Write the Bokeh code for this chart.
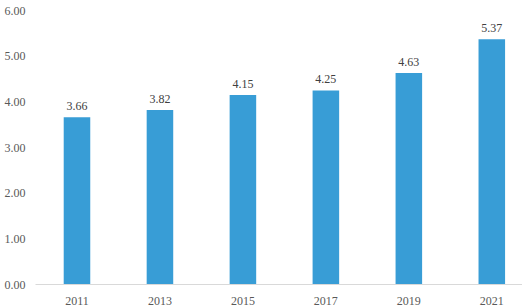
from bokeh.plotting import figure
from bokeh.models import ColumnDataSource, FixedTicker, Range1d, LabelSet
from bokeh.embed import file_html
from bokeh.resources import INLINE

years = ["2011", "2013", "2015", "2017", "2019", "2021"]
values = [3.66, 3.82, 4.15, 4.25, 4.63, 5.37]
y_ticks = [0, 1, 2, 3, 4, 5, 6]

xs = list(range(len(years)))
src = ColumnDataSource(dict(x=xs, top=values, label=[f"{v:.2f}" for v in values]))

p = figure(width=522, height=307, output_backend="svg", toolbar_location=None,
           x_range=Range1d(-0.5, 5.37), y_range=Range1d(0, 6),
           min_border_left=35, min_border_right=0, min_border_top=10, min_border_bottom=22)
p.outline_line_color = None
p.xgrid.grid_line_color = None
p.ygrid.grid_line_color = None

p.vbar(x="x", top="top", width=0.32, bottom=0, source=src, fill_color="#389dd6", line_color=None)

labels = LabelSet(x="x", y="top", text="label", source=src, y_offset=7,
                  text_align="center", text_baseline="bottom",
                  text_font="Liberation Serif", text_font_size="12px", text_color="#404040")
p.add_layout(labels)

p.xaxis.ticker = FixedTicker(ticks=xs)
p.xaxis.major_label_overrides = {i: y for i, y in enumerate(years)}
p.xaxis.axis_line_color = "#d9d9d9"
p.xaxis.major_tick_line_color = None
p.xaxis.minor_tick_line_color = None
p.xaxis.major_label_standoff = 6
p.xaxis.major_label_text_font = "Liberation Serif"
p.xaxis.major_label_text_font_size = "12px"
p.xaxis.major_label_text_color = "#595959"

p.yaxis.ticker = FixedTicker(ticks=y_ticks)
p.yaxis.major_label_overrides = {t: f"{t:.2f}" for t in y_ticks}
p.yaxis.axis_line_color = None
p.yaxis.major_tick_line_color = None
p.yaxis.minor_tick_line_color = None
p.yaxis.major_label_standoff = 4
p.yaxis.major_label_text_font = "Liberation Serif"
p.yaxis.major_label_text_font_size = "12px"
p.yaxis.major_label_text_color = "#595959"

open("out.html", "w").write(file_html(p, INLINE))
